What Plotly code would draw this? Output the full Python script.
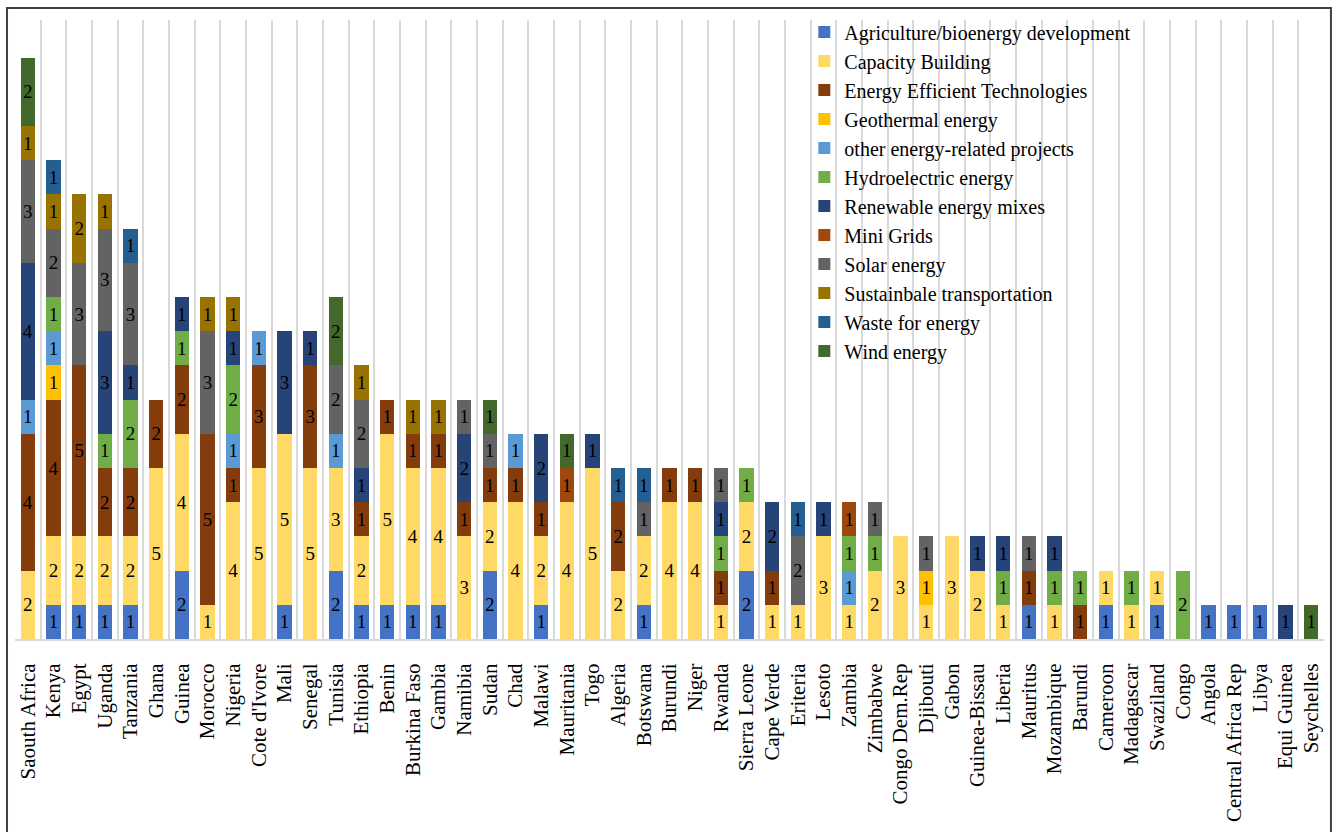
import plotly.graph_objects as go

countries = [
    "Saouth Africa", "Kenya", "Egypt", "Uganda", "Tanzania", "Ghana", "Guinea",
    "Morocco", "Nigeria", "Cote d'Ivore", "Mali", "Senegal", "Tunisia", "Ethiopia",
    "Benin", "Burkina Faso", "Gambia", "Namibia", "Sudan", "Chad", "Malawi",
    "Mauritania", "Togo", "Algeria", "Botswana", "Burundi", "Niger", "Rwanda",
    "Sierra Leone", "Cape Verde", "Eriteria", "Lesoto", "Zambia", "Zimbabwe",
    "Congo Dem.Rep", "Djibouti", "Gabon", "Guinea-Bissau", "Liberia", "Mauritus",
    "Mozambique", "Barundi", "Cameroon", "Madagascar", "Swaziland", "Congo",
    "Angola", "Central Africa Rep", "Libya", "Equi Guinea", "Seychelles",
]

# project counts per country, one list per category (same order as countries)
agriculture = [0, 1, 1, 1, 1, 0, 2, 0, 0, 0, 1, 0, 2, 1, 1, 1, 1, 0, 2, 0, 1,
               0, 0, 0, 1, 0, 0, 0, 2, 0, 0, 0, 0, 0, 0, 0, 0, 0, 0, 1,
               0, 0, 1, 0, 1, 0, 1, 1, 1, 0, 0]
capacity = [2, 2, 2, 2, 2, 5, 4, 1, 4, 5, 5, 5, 3, 2, 5, 4, 4, 3, 2, 4, 2,
            4, 5, 2, 2, 4, 4, 1, 2, 1, 1, 3, 1, 2, 3, 1, 3, 2, 1, 0,
            1, 0, 1, 1, 1, 0, 0, 0, 0, 0, 0]
efficient_tech = [4, 4, 5, 2, 2, 2, 2, 5, 1, 3, 0, 3, 0, 1, 1, 1, 1, 1, 1, 1, 1,
                  0, 0, 2, 0, 1, 1, 1, 0, 1, 0, 0, 0, 0, 0, 0, 0, 0, 0, 1,
                  0, 1, 0, 0, 0, 0, 0, 0, 0, 0, 0]
geothermal = [0, 1, 0, 0, 0, 0, 0, 0, 0, 0, 0, 0, 0, 0, 0, 0, 0, 0, 0, 0, 0,
              0, 0, 0, 0, 0, 0, 0, 0, 0, 0, 0, 0, 0, 0, 1, 0, 0, 0, 0,
              0, 0, 0, 0, 0, 0, 0, 0, 0, 0, 0]
other = [1, 1, 0, 0, 0, 0, 0, 0, 1, 1, 0, 0, 1, 0, 0, 0, 0, 0, 0, 1, 0,
         0, 0, 0, 0, 0, 0, 0, 0, 0, 0, 0, 1, 0, 0, 0, 0, 0, 0, 0,
         0, 0, 0, 0, 0, 0, 0, 0, 0, 0, 0]
hydro = [0, 1, 0, 1, 2, 0, 1, 0, 2, 0, 0, 0, 0, 0, 0, 0, 0, 0, 0, 0, 0,
         0, 0, 0, 0, 0, 0, 1, 1, 0, 0, 0, 1, 1, 0, 0, 0, 0, 1, 0,
         1, 1, 0, 1, 0, 2, 0, 0, 0, 0, 0]
renewable_mix = [4, 0, 0, 3, 1, 0, 1, 0, 1, 0, 3, 1, 0, 1, 0, 0, 0, 2, 0, 0, 2,
                 0, 1, 0, 0, 0, 0, 1, 0, 2, 0, 1, 0, 0, 0, 0, 0, 1, 1, 0,
                 1, 0, 0, 0, 0, 0, 0, 0, 0, 1, 0]
mini_grids = [0, 0, 0, 0, 0, 0, 0, 0, 0, 0, 0, 0, 0, 0, 0, 0, 0, 0, 0, 0, 0,
              1, 0, 0, 0, 0, 0, 0, 0, 0, 0, 0, 1, 0, 0, 0, 0, 0, 0, 0,
              0, 0, 0, 0, 0, 0, 0, 0, 0, 0, 0]
solar = [3, 2, 3, 3, 3, 0, 0, 3, 0, 0, 0, 0, 2, 2, 0, 0, 0, 1, 1, 0, 0,
         0, 0, 0, 1, 0, 0, 1, 0, 0, 2, 0, 0, 1, 0, 1, 0, 0, 0, 1,
         0, 0, 0, 0, 0, 0, 0, 0, 0, 0, 0]
transport = [1, 1, 2, 1, 0, 0, 0, 1, 1, 0, 0, 0, 0, 1, 0, 1, 1, 0, 0, 0, 0,
             0, 0, 0, 0, 0, 0, 0, 0, 0, 0, 0, 0, 0, 0, 0, 0, 0, 0, 0,
             0, 0, 0, 0, 0, 0, 0, 0, 0, 0, 0]
waste = [0, 1, 0, 0, 1, 0, 0, 0, 0, 0, 0, 0, 0, 0, 0, 0, 0, 0, 0, 0, 0,
         0, 0, 1, 1, 0, 0, 0, 0, 0, 1, 0, 0, 0, 0, 0, 0, 0, 0, 0,
         0, 0, 0, 0, 0, 0, 0, 0, 0, 0, 0]
wind = [2, 0, 0, 0, 0, 0, 0, 0, 0, 0, 0, 0, 2, 0, 0, 0, 0, 0, 1, 0, 0,
        1, 0, 0, 0, 0, 0, 0, 0, 0, 0, 0, 0, 0, 0, 0, 0, 0, 0, 0,
        0, 0, 0, 0, 0, 0, 0, 0, 0, 0, 1]

series = [
    ("Agriculture/bioenergy development", agriculture, "#4472C4"),
    ("Capacity Building", capacity, "#FFD966"),
    ("Energy Efficient Technologies", efficient_tech, "#843C0C"),
    ("Geothermal energy", geothermal, "#FFC000"),
    ("other energy-related projects", other, "#5B9BD5"),
    ("Hydroelectric energy", hydro, "#70AD47"),
    ("Renewable energy mixes", renewable_mix, "#264478"),
    ("Mini Grids", mini_grids, "#9E480E"),
    ("Solar energy", solar, "#636363"),
    ("Sustainbale transportation", transport, "#997300"),
    ("Waste for energy", waste, "#255E91"),
    ("Wind energy", wind, "#43682B"),
]

SERIF = "Liberation Serif, Times New Roman, serif"

fig = go.Figure()

for name, vals, color in series:
    fig.add_trace(go.Bar(
        x=countries,
        y=vals,
        name=name,
        marker=dict(color=color, line=dict(width=0)),
        text=[str(v) if v else "" for v in vals],
        textposition="inside",
        insidetextanchor="middle",
        textangle=0,
        constraintext="none",
        textfont=dict(family=SERIF, size=19, color="black"),
        hoverinfo="x+y+name",
    ))

# outer frame around the whole chart
fig.add_shape(type="rect", xref="paper", yref="paper",
              x0=-0.0061, x1=1.0053, y0=-0.33, y1=1.0194,
              line=dict(color="#404040", width=2), layer="below")

fig.update_layout(
    width=1335,
    height=832,
    margin=dict(l=15, r=11, t=20, b=193),
    barmode="stack",
    bargap=0.45,
    plot_bgcolor="white",
    paper_bgcolor="white",
    font=dict(family=SERIF, color="black"),
    showlegend=True,
    legend=dict(
        x=0.603, y=1.012, xanchor="left", yanchor="top",
        bgcolor="rgba(0,0,0,0)",
        traceorder="normal",
        font=dict(family=SERIF, size=20, color="black"),
        itemwidth=30,
        tracegroupgap=0,
    ),
    xaxis=dict(
        tickangle=-90,
        tickson="boundaries",
        showgrid=True,
        gridcolor="#D9D9D9",
        gridwidth=2,
        showline=True,
        linecolor="#D9D9D9",
        linewidth=2,
        ticks="",
        ticklabelstandoff=14,
        tickfont=dict(family=SERIF, size=21, color="black"),
        range=[-0.5, len(countries) - 0.5],
    ),
    yaxis=dict(
        range=[0, 18.1],
        showgrid=False,
        zeroline=False,
        showticklabels=False,
        showline=False,
    ),
)

# drop the default page margin so the figure sits at the window's top-left
fig.write_html("out.html",
               config={"displayModeBar": False},
               post_script="document.body.style.margin='0';"
                           "document.body.style.overflow='hidden';")
